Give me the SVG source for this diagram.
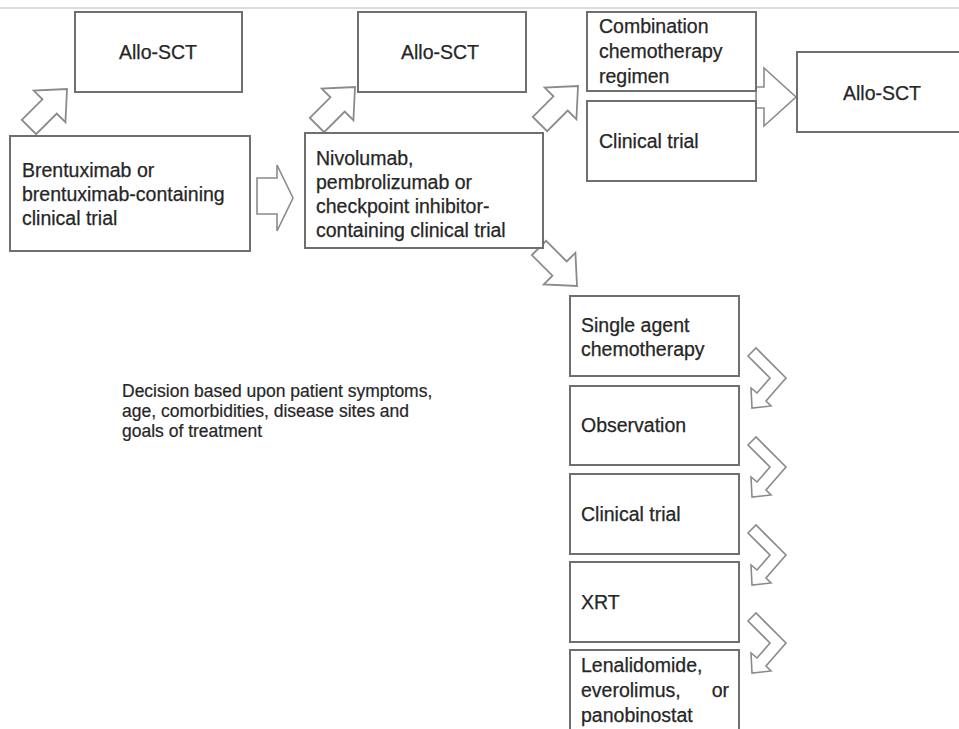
<svg xmlns="http://www.w3.org/2000/svg" width="959" height="729" viewBox="0 0 959 729">
<defs>
<style>
.box{fill:#fff;stroke:#6f6f6f;stroke-width:2}
.t{font-family:"Liberation Sans",Arial,sans-serif;font-size:19.5px;fill:#262626;stroke:#262626;stroke-width:0.25}
.n{font-family:"Liberation Sans",Arial,sans-serif;font-size:17.5px;fill:#262626;stroke:#262626;stroke-width:0.2}
.arr{fill:#fff;stroke:#8a8a8a;stroke-width:1.6;stroke-linejoin:miter}
</style>
<polygon id="blk" points="-24,-9 2,-9 2,-20 24,0 2,20 2,9 -24,9"/>
<polygon id="bent" points="748,356 756,348 786,378 766,401 771,406 752,408 751,388 757,393 770,378"/>
</defs>
<rect width="959" height="729" fill="#fff"/>
<line x1="0" y1="8" x2="959" y2="8" stroke="#cfcfcf" stroke-width="1.5"/>

<g id="connectors">
<use href="#blk" class="arr" transform="translate(48,108) rotate(-45) scale(1.12)"/>
<polygon class="arr" points="257,178 277,178 277,165 293,198 277,231 277,214 257,214"/>
<use href="#blk" class="arr" transform="translate(336,106) rotate(-45) scale(1.12)"/>
<use href="#blk" class="arr" transform="translate(559,105) rotate(-45) scale(1.12)"/>
<polygon class="arr" points="756,87 764,87 764,68 796,97 764,126 764,108 756,108"/>
<use href="#blk" class="arr" transform="translate(558,267) rotate(45) scale(1.12)"/>
<use href="#bent" class="arr"/>
<use href="#bent" class="arr" transform="translate(0,89)"/>
<use href="#bent" class="arr" transform="translate(0,177)"/>
<use href="#bent" class="arr" transform="translate(0,265)"/>
</g>

<g id="allo1"><rect class="box" x="75" y="12" width="167" height="80"/><text class="t" x="158" y="59" text-anchor="middle">Allo-SCT</text></g>
<g id="brentuximab"><rect class="box" x="10" y="136" width="240" height="115"/>
<text class="t" x="22" y="177">Brentuximab or</text>
<text class="t" x="22" y="201">brentuximab-containing</text>
<text class="t" x="22" y="225">clinical trial</text></g>
<g id="allo2"><rect class="box" x="358" y="12" width="168" height="80"/><text class="t" x="440" y="59" text-anchor="middle">Allo-SCT</text></g>
<g id="nivolumab"><rect class="box" x="305" y="133" width="238" height="115"/>
<text class="t" x="316" y="165">Nivolumab,</text>
<text class="t" x="316" y="189">pembrolizumab or</text>
<text class="t" x="316" y="213">checkpoint inhibitor-</text>
<text class="t" x="316" y="237">containing clinical trial</text></g>
<g id="combination"><rect class="box" x="587" y="12" width="169" height="79"/>
<text class="t" x="599" y="33">Combination</text>
<text class="t" x="599" y="58">chemotherapy</text>
<text class="t" x="599" y="83">regimen</text></g>
<g id="clinical-trial-top"><rect class="box" x="587" y="101" width="169" height="80"/><text class="t" x="599" y="148">Clinical trial</text></g>
<g id="allo3"><rect class="box" x="797" y="52" width="170" height="80"/><text class="t" x="882" y="100" text-anchor="middle">Allo-SCT</text></g>
<g id="single-agent"><rect class="box" x="570" y="296" width="169" height="80"/>
<text class="t" x="581" y="332">Single agent</text>
<text class="t" x="581" y="356">chemotherapy</text></g>
<g id="observation"><rect class="box" x="570" y="386" width="169" height="79"/><text class="t" x="581" y="432">Observation</text></g>
<g id="clinical-trial"><rect class="box" x="570" y="474" width="169" height="80"/><text class="t" x="581" y="521">Clinical trial</text></g>
<g id="xrt"><rect class="box" x="570" y="562" width="169" height="80"/><text class="t" x="581" y="609">XRT</text></g>
<g id="lenalidomide"><rect class="box" x="570" y="650" width="169" height="90"/>
<text class="t" x="581" y="672">Lenalidomide,</text>
<text class="t" x="581" y="697">everolimus,</text><text class="t" x="729" y="697" text-anchor="end">or</text>
<text class="t" x="581" y="722">panobinostat</text></g>
<g id="note">
<text class="n" x="122" y="397">Decision based upon patient symptoms,</text>
<text class="n" x="122" y="417">age, comorbidities, disease sites and</text>
<text class="n" x="122" y="437">goals of treatment</text></g>
</svg>
